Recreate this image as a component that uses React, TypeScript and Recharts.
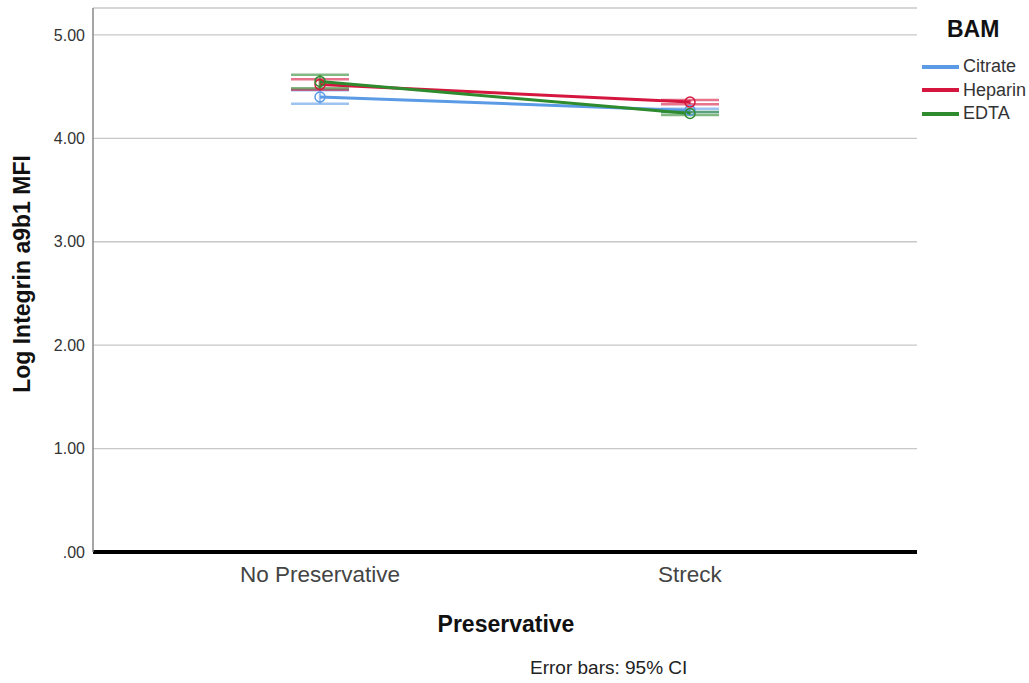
import { LineChart, Line, XAxis, YAxis, CartesianGrid, ErrorBar } from 'recharts'

const categories = ['No Preservative', 'Streck']
const seriesNames = ['Citrate', 'Heparin', 'EDTA']
const seriesColors = ['#5b9be6', '#d5173f', '#2e8b2e']

// means and 95% CI half-widths
const citrate = [4.40, 4.27]
const citrateErr = [0.065, 0.015]
const heparin = [4.52, 4.35]
const heparinErr = [0.05, 0.02]
const edta = [4.55, 4.24]
const edtaErr = [0.065, 0.015]

const yTicks = [0, 1, 2, 3, 4, 5]

const data = categories.map((name, i) => ({
  name,
  Citrate: citrate[i],
  CitrateErr: citrateErr[i],
  Heparin: heparin[i],
  HeparinErr: heparinErr[i],
  EDTA: edta[i],
  EDTAErr: edtaErr[i],
}))

const font = '"Liberation Sans", Arial, sans-serif'

const formatTick = (v: number) => (v === 0 ? '.00' : v.toFixed(2))

export default function App() {
  return (
    <div style={{ position: 'absolute', left: 0, top: 0, width: 1029, height: 683, background: '#fff', fontFamily: font }}>
      <LineChart
        width={1029}
        height={683}
        data={data}
        margin={{ top: 8, right: 112, left: 0, bottom: 0 }}
      >
        <CartesianGrid horizontal vertical={false} stroke="#c8c8c8" strokeWidth={1.3} />
        <XAxis
          dataKey="name"
          height={131}
          padding={{ left: 227, right: 227 }}
          axisLine={{ stroke: '#000', strokeWidth: 4 }}
          tickLine={false}
          tick={{ fontSize: 22.5, fill: '#444', fontFamily: font }}
          tickMargin={8}
        />
        <YAxis
          width={93}
          domain={[0, 5.26]}
          ticks={yTicks}
          tickFormatter={formatTick}
          axisLine={{ stroke: '#888', strokeWidth: 1.5 }}
          tickLine={false}
          tick={{ fontSize: 16, fill: '#333', fontFamily: font }}
        />
        {seriesNames.map((s, i) => (
          <Line
            key={s}
            type="linear"
            dataKey={s}
            stroke={seriesColors[i]}
            strokeWidth={3}
            dot={{ r: 5, fill: 'none', stroke: seriesColors[i], strokeWidth: 1.5 }}
            activeDot={false}
            isAnimationActive={false}
          >
            <ErrorBar
              dataKey={`${s}Err`}
              width={29}
              stroke={seriesColors[i]}
              strokeWidth={2.5}
              strokeOpacity={0.6}
              isAnimationActive={false}
            />
          </Line>
        ))}
      </LineChart>

      {/* axis titles */}
      <div
        style={{
          position: 'absolute', left: 22, top: 274, transform: 'translate(-50%, -50%) rotate(-90deg)',
          fontSize: 23, fontWeight: 'bold', color: '#111', whiteSpace: 'nowrap',
        }}
      >
        Log Integrin a9b1 MFI
      </div>
      <div
        style={{
          position: 'absolute', left: 506, top: 624, transform: 'translate(-50%, -50%)',
          fontSize: 23, fontWeight: 'bold', color: '#111', whiteSpace: 'nowrap',
        }}
      >
        Preservative
      </div>
      <div
        style={{
          position: 'absolute', left: 530, top: 668, transform: 'translateY(-50%)',
          fontSize: 19, color: '#222', whiteSpace: 'nowrap',
        }}
      >
        Error bars: 95% CI
      </div>

      {/* legend */}
      <div style={{ position: 'absolute', left: 947, top: 16, fontSize: 23, fontWeight: 'bold', color: '#111' }}>BAM</div>
      {seriesNames.map((s, i) => (
        <div
          key={s}
          style={{ position: 'absolute', left: 922, top: 56 + i * 23.5, display: 'flex', alignItems: 'center', fontSize: 18, color: '#333' }}
        >
          <span style={{ display: 'inline-block', width: 37, height: 4, background: seriesColors[i], marginRight: 4 }} />
          {s}
        </div>
      ))}
    </div>
  )
}
